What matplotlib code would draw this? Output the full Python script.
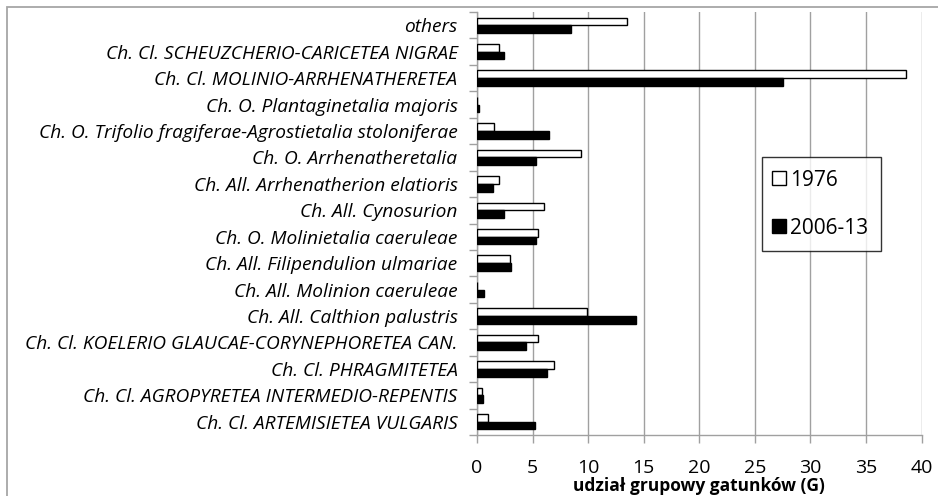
import matplotlib
matplotlib.use("Agg")
import matplotlib.pyplot as plt
import numpy as np
from matplotlib.patches import Rectangle
from matplotlib.lines import Line2D

categories = [
    "others",
    "Ch. Cl. SCHEUZCHERIO-CARICETEA NIGRAE",
    "Ch. Cl. MOLINIO-ARRHENATHERETEA",
    "Ch. O. Plantaginetalia majoris",
    "Ch. O. Trifolio fragiferae-Agrostietalia stoloniferae",
    "Ch. O. Arrhenatheretalia",
    "Ch. All. Arrhenatherion elatioris",
    "Ch. All. Cynosurion",
    "Ch. O. Molinietalia caeruleae",
    "Ch. All. Filipendulion ulmariae",
    "Ch. All. Molinion caeruleae",
    "Ch. All. Calthion palustris",
    "Ch. Cl. KOELERIO GLAUCAE-CORYNEPHORETEA CAN.",
    "Ch. Cl. PHRAGMITETEA",
    "Ch. Cl. AGROPYRETEA INTERMEDIO-REPENTIS",
    "Ch. Cl. ARTEMISIETEA VULGARIS",
]
values_1976 = [13.5, 2.0, 38.6, 0.0, 1.5, 9.4, 2.0, 6.0, 5.45, 3.0, 0.0, 9.9, 5.45, 6.95, 0.45, 1.0]
values_2006 = [8.5, 2.45, 27.5, 0.2, 6.5, 5.35, 1.45, 2.4, 5.35, 3.05, 0.65, 14.3, 4.4, 6.3, 0.5, 5.2]
series_names = ["1976", "2006-13"]
xticks = [0, 5, 10, 15, 20, 25, 30, 35, 40]
xlabel = "udział grupowy gatunków (G)"

W, H = 938, 496
fig = plt.figure(figsize=(W / 100, H / 100), dpi=100)

# outer chart border (cut off at right/bottom)
fig.patches.append(Rectangle((7 / W, -0.05), 1.1, 1 - 7 / H + 0.05, transform=fig.transFigure,
                             fill=False, edgecolor="#a6a6a6", linewidth=1.3))

left, right, top, bottom = 477, 921.5, 12, 435
ax = fig.add_axes([left / W, 1 - bottom / H, (right - left) / W, (bottom - top) / H])

n = len(categories)
y = np.arange(n)
bh = 0.29
grey = "#a0a0a0"
ax.barh(y - bh / 2, values_1976, height=bh, color="white", edgecolor="black", linewidth=1.0,
        label=series_names[0], zorder=3)
ax.barh(y + bh / 2, values_2006, height=bh, color="black", edgecolor="black", linewidth=1.0,
        label=series_names[1], zorder=3)

ax.set_ylim(n - 0.5, -0.5)
ax.set_xlim(0, 40)
ax.set_xticks(xticks)
ax.set_xticklabels([str(t) for t in xticks], fontsize=14, family="Open Sans")
ax.set_yticks(y)
ax.set_yticklabels(categories, fontsize=13.8, style="italic", family="Open Sans")
ax.set_yticks(np.arange(n + 1) - 0.5, minor=True)
ax.tick_params(axis="y", which="major", length=0, pad=14)
ax.tick_params(axis="y", which="minor", length=6, color=grey, width=1)
ax.tick_params(axis="x", which="major", length=6, color=grey, width=1, pad=11)

ax.grid(axis="x", color=grey, linewidth=1, zorder=0)
for s in ["top", "right"]:
    ax.spines[s].set_visible(False)
for s in ["left", "bottom"]:
    ax.spines[s].set_color(grey)
    ax.spines[s].set_linewidth(1)

ax.set_xlabel(xlabel, fontsize=12.5, fontweight="bold", family="Open Sans", labelpad=0)

handles = [
    Line2D([], [], marker="s", linestyle="none", markersize=10, markerfacecolor="white",
           markeredgecolor="black", markeredgewidth=1),
    Line2D([], [], marker="s", linestyle="none", markersize=10, markerfacecolor="black",
           markeredgecolor="black"),
]
leg = ax.legend(handles, series_names, loc="upper left",
                bbox_to_anchor=((762 - left) / (right - left), 1 - (157 - top) / (bottom - top)),
                prop={"family": "Open Sans", "size": 15}, frameon=True, fancybox=False,
                edgecolor="black", borderpad=0.6, labelspacing=1.3, handletextpad=0.35,
                handlelength=0.4, borderaxespad=0)
leg.get_frame().set_linewidth(1)

fig.savefig("out.png", dpi=100)
